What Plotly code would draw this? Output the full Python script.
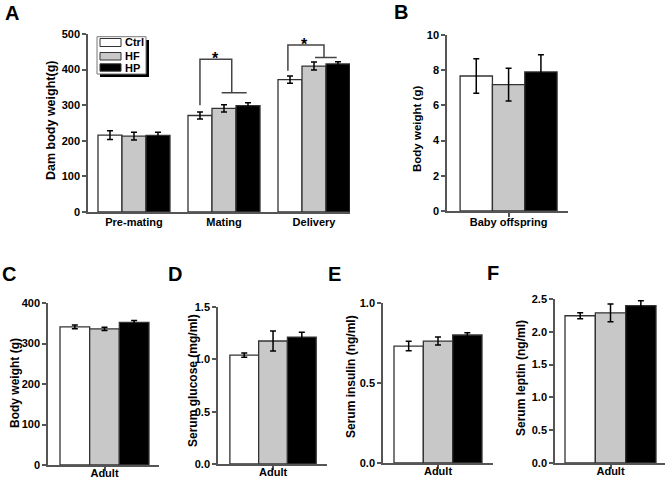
import plotly.graph_objects as go

# ---------------- data ----------------
groups = ["Ctrl", "HF", "HP"]
group_colors = ["white", "#c8c8c8", "black"]

a_categories = ["Pre-mating", "Mating", "Delivery"]
a_ctrl = [216, 271, 372]
a_ctrl_err = [12, 10, 10]
a_hf = [213, 291, 410]
a_hf_err = [11, 10, 11]
a_hp = [215, 299, 416]
a_hp_err = [9, 8, 6]

b_categories = ["Baby offspring"]
b_vals = [7.67, 7.18, 7.90]
b_errs = [0.98, 0.93, 0.98]

c_categories = ["Adult"]
c_vals = [341, 336, 352]
c_errs = [4.5, 4, 5]

d_categories = ["Adult"]
d_vals = [1.04, 1.175, 1.213]
d_errs = [0.02, 0.095, 0.045]

e_categories = ["Adult"]
e_vals = [0.731, 0.762, 0.80]
e_errs = [0.03, 0.025, 0.014]

f_categories = ["Adult"]
f_vals = [2.245, 2.29, 2.40]
f_errs = [0.045, 0.135, 0.075]

a_yticks = [0, 100, 200, 300, 400, 500]
b_yticks = [0, 2, 4, 6, 8, 10]
c_yticks = [0, 100, 200, 300, 400]
d_yticks = [0.0, 0.5, 1.0, 1.5]
e_yticks = [0.0, 0.5, 1.0]
f_yticks = [0.0, 0.5, 1.0, 1.5, 2.0, 2.5]

# ---------------- geometry ----------------
W, H = 670, 481
FONT = "Liberation Sans, Arial, sans-serif"
AXC = "#555555"


def fx(p):
    return p / W


def fy(p):
    return 1 - p / H


panels = [
    dict(letter="A", cats=a_categories,
         vals=[a_ctrl, a_hf, a_hp], errs=[a_ctrl_err, a_hf_err, a_hp_err],
         title="Dam body weight(g)", yticks=a_yticks, fmt="{:d}",
         px=(88, 350), py=(34, 212), xr=[-0.511, 2.4], xticks=False, xstand=-1,
         title_pos=(51, 121), title_size=12.5, letter_pos=(12, 13)),
    dict(letter="B", cats=b_categories,
         vals=[[v] for v in b_vals], errs=[[e] for e in b_errs],
         title="Body weight (g)", yticks=b_yticks, fmt="{:d}",
         px=(447, 568), py=(35, 211), xr=[-0.508, 0.49], xticks=True, xstand=-4,
         title_pos=(417, 129), title_size=11.5, letter_pos=(401, 12)),
    dict(letter="C", cats=c_categories,
         vals=[[v] for v in c_vals], errs=[[e] for e in c_errs],
         title="Body weight (g)", yticks=c_yticks, fmt="{:d}",
         px=(48, 159), py=(303, 465), xr=[-0.508, 0.49], xticks=True, xstand=-7,
         title_pos=(15, 383), title_size=12, letter_pos=(9, 274)),
    dict(letter="D", cats=d_categories,
         vals=[[v] for v in d_vals], errs=[[e] for e in d_errs],
         title="Serum glucose (mg/ml)", yticks=d_yticks, fmt="{:.1f}",
         px=(218, 327), py=(307, 464), xr=[-0.51, 0.5], xticks=True, xstand=-7,
         title_pos=(193, 380), title_size=12, letter_pos=(175, 274)),
    dict(letter="E", cats=e_categories,
         vals=[[v] for v in e_vals], errs=[[e] for e in e_errs],
         title="Serum insulin (ng/ml)", yticks=e_yticks, fmt="{:.1f}",
         px=(383, 493), py=(303, 463), xr=[-0.5, 0.5], xticks=True, xstand=-7,
         title_pos=(351, 377), title_size=12, letter_pos=(334, 274)),
    dict(letter="F", cats=f_categories,
         vals=[[v] for v in f_vals], errs=[[e] for e in f_errs],
         title="Serum leptin (ng/ml)", yticks=f_yticks, fmt="{:.1f}",
         px=(555, 665), py=(299, 463), xr=[-0.488, 0.479], xticks=True, xstand=-7,
         title_pos=(521, 378), title_size=12, letter_pos=(493, 273)),
]

fig = go.Figure()
annotations = []
shapes = []

for i, p in enumerate(panels):
    n = "" if i == 0 else str(i + 1)
    xa, ya = "x" + n, "y" + n
    for g, (name, col) in enumerate(zip(groups, group_colors)):
        fig.add_trace(go.Bar(
            x=p["cats"], y=p["vals"][g], name=name,
            marker=dict(color=col, line=dict(color="#333333", width=1.3)),
            error_y=dict(type="data", array=p["errs"][g], visible=True,
                         color="black", thickness=1.5, width=3),
            xaxis=xa, yaxis=ya, showlegend=False, offsetgroup=str(g),
        ))
    ymax = p["yticks"][-1]
    fig.layout["xaxis" + n] = dict(
        domain=[fx(p["px"][0]), fx(p["px"][1])], anchor=ya,
        range=p["xr"], type="category",
        showline=True, linecolor=AXC, linewidth=1.5, showgrid=False,
        zeroline=False,
        ticks="outside" if p["xticks"] else "", ticklen=4, tickwidth=1.5,
        tickcolor=AXC, ticklabelstandoff=p["xstand"],
        tickfont=dict(family=FONT, size=11, color="black", weight="bold"),
        fixedrange=True, automargin=False,
    )
    fig.layout["yaxis" + n] = dict(
        domain=[fy(p["py"][1]), fy(p["py"][0])], anchor=xa,
        range=[0, ymax], showline=True, linecolor=AXC, linewidth=1.5,
        showgrid=False, zeroline=False, ticks="outside", ticklen=4,
        tickwidth=1.5, tickcolor=AXC,
        tickvals=p["yticks"], ticktext=[p["fmt"].format(t) for t in p["yticks"]],
        tickfont=dict(family=FONT, size=11, color="black", weight="bold"),
        fixedrange=True, automargin=False,
    )
    annotations.append(dict(
        x=fx(p["title_pos"][0]), y=fy(p["title_pos"][1]), xref="paper", yref="paper",
        text=p["title"], textangle=-90, showarrow=False,
        font=dict(family=FONT, size=p["title_size"], color="black", weight="bold"),
        xanchor="center", yanchor="middle"))
    annotations.append(dict(
        x=fx(p["letter_pos"][0]), y=fy(p["letter_pos"][1]), xref="paper", yref="paper",
        text=p["letter"], showarrow=False,
        font=dict(family=FONT, size=20, color="black", weight="bold"),
        xanchor="center", yanchor="middle"))

# significance brackets in panel A (data coordinates)
BR = dict(color="#444444", width=1.5)
brackets = [
    [(0.733, 300), (0.733, 429), (1.086, 429), (1.086, 335)],
    [(1.71, 397), (1.71, 469), (2.111, 469), (2.111, 434)],
]
bars = [((0.974, 335), (1.252, 335)), ((2.011, 434), (2.252, 434))]
stars = [(0.91, 443), (1.89, 481)]
for pts in brackets:
    path = "M " + " L ".join(f"{x},{y}" for x, y in pts)
    shapes.append(dict(type="path", path=path, xref="x", yref="y", line=BR))
for (x0, y0), (x1, y1) in bars:
    shapes.append(dict(type="line", x0=x0, y0=y0, x1=x1, y1=y1, xref="x", yref="y", line=BR))
for sx, sy in stars:
    annotations.append(dict(x=sx, y=sy, xref="x", yref="y", text="*", showarrow=False,
                            font=dict(family=FONT, size=16, color="black", weight="bold"),
                            xanchor="center", yanchor="middle", yshift=-4))

# manual legend in panel A
shapes.append(dict(type="rect", xref="paper", yref="paper",
                   x0=fx(100), x1=fx(149), y0=fy(77), y1=fy(40),
                   fillcolor="black", line=dict(width=0)))
shapes.append(dict(type="rect", xref="paper", yref="paper",
                   x0=fx(97), x1=fx(146), y0=fy(74), y1=fy(36.7),
                   fillcolor="white", line=dict(color="#777777", width=1)))
rows = [(38.5, 46.5), (52.5, 60), (63.8, 71.2)]
for (t, b), name, col in zip(rows, groups, group_colors):
    shapes.append(dict(type="rect", xref="paper", yref="paper",
                       x0=fx(100), x1=fx(121), y0=fy(b), y1=fy(t),
                       fillcolor=col, line=dict(color="#333333", width=1)))
    annotations.append(dict(x=fx(123), y=fy((t + b) / 2), xref="paper", yref="paper",
                            text=name, showarrow=False, xanchor="left", yanchor="middle",
                            font=dict(family=FONT, size=11, color="black", weight="bold")))

fig.update_layout(
    width=W, height=H, autosize=False,
    margin=dict(l=0, r=0, t=0, b=0, pad=0, autoexpand=False),
    paper_bgcolor="white", plot_bgcolor="white",
    barmode="group", bargap=0.2, bargroupgap=0,
    annotations=annotations, shapes=shapes, showlegend=False,
    font=dict(family=FONT, color="black"),
)

fig.write_html("out.html", config={"displayModeBar": False},
               post_script="document.body.style.margin='0';document.body.style.overflow='hidden';")
